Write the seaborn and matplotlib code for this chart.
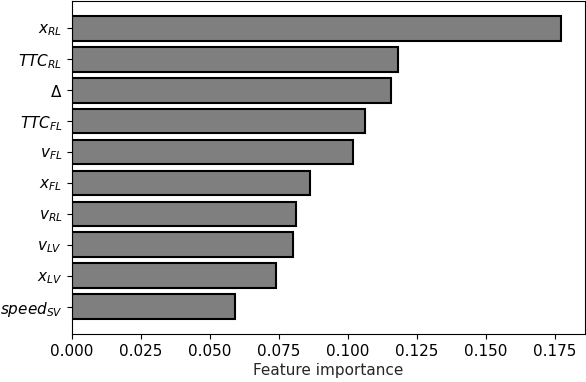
import matplotlib
matplotlib.use("Agg")
import matplotlib.pyplot as plt
import seaborn as sns
import pandas as pd

features = [r"$x_{RL}$", r"$TTC_{RL}$", r"$\Delta$", r"$TTC_{FL}$", r"$v_{FL}$",
            r"$x_{FL}$", r"$v_{RL}$", r"$v_{LV}$", r"$x_{LV}$", r"$speed_{SV}$"]
importance = [0.1774, 0.1182, 0.1157, 0.1064, 0.1019, 0.0864, 0.0813, 0.0801, 0.0739, 0.0592]
xticks = [0.000, 0.025, 0.050, 0.075, 0.100, 0.125, 0.150, 0.175]

df = pd.DataFrame({"feature": features, "importance": importance})

sns.set_style("ticks")
plt.rcParams['font.family'] = ['DejaVu Sans']
plt.rcParams['mathtext.fontset'] = 'dejavusans'

fig = plt.figure(figsize=(5.86, 3.82), dpi=100)
ax = fig.add_axes([72/586, 1 - 334/382, (585-72)/586, 333/382])
sns.barplot(data=df, x="importance", y="feature", orient="h", color="#7f7f7f",
            saturation=1, edgecolor="black", linewidth=1.5, width=0.8, ax=ax)
ax.set_ylim(9.88, -0.88)
ax.set_xlim(0, 0.186)
ax.set_xticks(xticks)
ax.set_xticklabels([f"{t:.3f}" for t in xticks])
ax.set_xlabel("Feature importance", fontsize=11, labelpad=3)
ax.set_ylabel("")
ax.tick_params(axis="x", labelsize=11, colors="black")
ax.tick_params(axis="y", labelsize=11, colors="black")
for s in ax.spines.values():
    s.set_visible(True)
    s.set_color("black")
fig.savefig("out.png", dpi=100)
